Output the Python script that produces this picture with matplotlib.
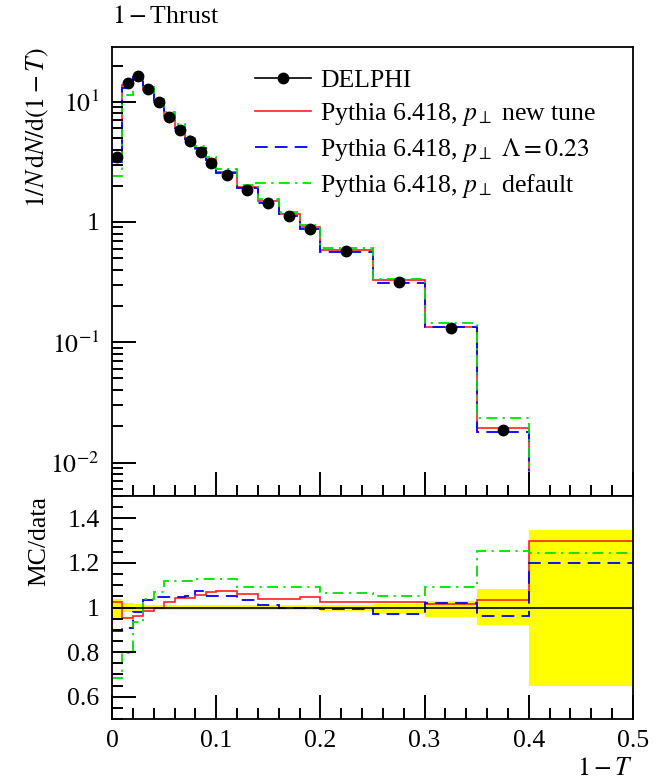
import numpy as np
import matplotlib
matplotlib.use('Agg')
import matplotlib.pyplot as plt
from matplotlib.ticker import FixedLocator, MultipleLocator, LogLocator, FuncFormatter, NullFormatter
from matplotlib.lines import Line2D

plt.rcParams['font.family'] = ['Liberation Serif', 'DejaVu Serif']
plt.rcParams['mathtext.fontset'] = 'stix'
plt.rcParams['font.size'] = 18.5

# bin edges in 1-T
edges = [0.0, 0.01, 0.02, 0.03, 0.04, 0.05, 0.06, 0.07, 0.08, 0.09, 0.10,
         0.12, 0.14, 0.16, 0.18, 0.20, 0.25, 0.30, 0.35, 0.40, 0.50]

# DELPHI data, 1/N dN/d(1-T)
delphi = [3.5, 14.4, 16.4, 12.7, 9.9, 7.4, 5.8, 4.67, 3.81, 3.1, 2.44,
          1.86, 1.43, 1.12, 0.87, 0.57, 0.318, 0.132, 0.0188, 0.0025]

# MC / data ratios
ratio_new = [1.023, 0.953, 0.96, 0.984, 1.0, 1.023, 1.043, 1.043, 1.057, 1.068,
             1.075, 1.06, 1.038, 1.038, 1.045, 1.026, 1.026, 1.017, 1.035, 1.30]
ratio_lam = [0.895, 0.91, 0.98, 1.034, 1.049, 1.049, 1.047, 1.05, 1.072, 1.05,
             1.05, 1.034, 1.009, 1.0, 0.996, 0.994, 0.972, 1.022, 0.96, 1.20]
ratio_def = [0.685, 0.796, 0.935, 1.038, 1.068, 1.119, 1.119, 1.119, 1.127, 1.127,
             1.127, 1.09, 1.09, 1.09, 1.09, 1.063, 1.053, 1.09, 1.255, 1.244]

# data uncertainty band (relative)
band_hi = [1.038, 1.02, 1.015, 1.012, 1.01, 1.01, 1.01, 1.01, 1.01, 1.01,
           1.01, 1.01, 1.012, 1.012, 1.012, 1.013, 1.015, 1.03, 1.082, 1.347]
band_lo = [0.95, 0.98, 0.985, 0.988, 0.99, 0.99, 0.99, 0.99, 0.99, 0.99,
           0.99, 0.99, 0.988, 0.988, 0.988, 0.985, 0.97, 0.957, 0.92, 0.648]

labels = ['DELPHI',
          r'Pythia 6.418, $p_{\perp}$ new tune',
          r'Pythia 6.418, $p_{\perp}$ $\Lambda = 0.23$',
          r'Pythia 6.418, $p_{\perp}$ default']

edges = np.array(edges)
delphi = np.array(delphi)
centers = 0.5 * (edges[1:] + edges[:-1])

red, blue, green = '#ff2020', '#0000ff', '#00e000'
styles = [
    dict(color=red, lw=1.2, ls='-'),
    dict(color=blue, lw=1.3, ls=(0, (7, 4))),
    dict(color=green, lw=1.3, ls=(0, (6, 3, 1.2, 3))),
]
ratios = [np.array(ratio_new), np.array(ratio_lam), np.array(ratio_def)]

fig = plt.figure(figsize=(6.56, 7.82), dpi=100)
L, R = 112 / 656, 633 / 656
ax = fig.add_axes([L, 1 - 496 / 782, R - L, (496 - 47) / 782])
rax = fig.add_axes([L, 1 - 719 / 782, R - L, (719 - 496) / 782])

# ---- upper panel
for r, st in zip(ratios, styles):
    ax.stairs(delphi * r, edges, baseline=None, **st)
ax.errorbar(centers, delphi, yerr=delphi * (np.array(band_hi) - 1),
            fmt='o', color='black', ms=7.5, elinewidth=1, capsize=0, zorder=5)

ax.set_yscale('log')
ax.set_xlim(0, 0.5)
ax.set_ylim(0.00527, 28.5)

tick_names = {0.01: r'$10^{-2}$', 0.1: r'$10^{-1}$', 1.0: '1', 10.0: r'$10^{1}$'}
ax.yaxis.set_major_locator(FixedLocator([0.01, 0.1, 1, 10]))
ax.yaxis.set_major_formatter(FuncFormatter(lambda v, p: tick_names.get(round(v, 4), '')))
ax.yaxis.set_minor_locator(LogLocator(base=10, subs=np.arange(2, 10), numticks=20))
ax.yaxis.set_minor_formatter(NullFormatter())
ax.xaxis.set_major_locator(MultipleLocator(0.1))
ax.xaxis.set_minor_locator(MultipleLocator(0.02))
ax.tick_params(axis='x', labelbottom=False)
ax.set_ylabel(r'$1/N\,\mathrm{d}N/\mathrm{d}(1-T)$', loc='top')
ax.yaxis.set_label_coords(-0.118, 1.0)

handles = [Line2D([], [], color='black', marker='o', ms=7.5, lw=1.2)]
handles += [Line2D([], [], **st) for st in styles]
ax.legend(handles, labels, loc='upper left', bbox_to_anchor=(0.274, 0.95),
          frameon=False, borderpad=0, borderaxespad=0, handlelength=2.2,
          handletextpad=0.35, labelspacing=0.32, fontsize=18.5)

# ---- ratio panel
rax.stairs(band_hi, edges, baseline=band_lo, fill=True, color='#ffff00', lw=0)
rax.axhline(1.0, color='black', lw=1.2)
for r, st in zip(ratios, styles):
    rax.stairs(r, edges, baseline=None, **st)
rax.set_xlim(0, 0.5)
rax.set_ylim(0.5, 1.5)
rax.yaxis.set_major_locator(FixedLocator([0.6, 0.8, 1.0, 1.2, 1.4]))
rax.yaxis.set_minor_locator(MultipleLocator(0.05))
rax.yaxis.set_major_formatter(FuncFormatter(lambda v, p: f'{v:g}'))
rax.xaxis.set_major_locator(MultipleLocator(0.1))
rax.xaxis.set_minor_locator(MultipleLocator(0.02))
rax.xaxis.set_major_formatter(FuncFormatter(lambda v, p: f'{v:g}'))
rax.set_ylabel('MC/data', loc='top')
rax.yaxis.set_label_coords(-0.118, 1.0)
rax.set_xlabel(r'$1-T$', loc='right')

# ROOT-like frame: inward ticks on left and bottom only
for a in (ax, rax):
    for sp in a.spines.values():
        sp.set_linewidth(1.3)
    a.tick_params(which='both', direction='in', top=False, right=False,
                  color='black', width=1.4)
    a.tick_params(which='major', length=17, pad=9)
    a.tick_params(which='minor', length=8)
rax.tick_params(axis='x', which='major', pad=8)

fig.text(L, 1 - 17 / 782, r'$1-$Thrust', ha='left', va='center', fontsize=18.5)

fig.savefig('out.png', dpi=100)
